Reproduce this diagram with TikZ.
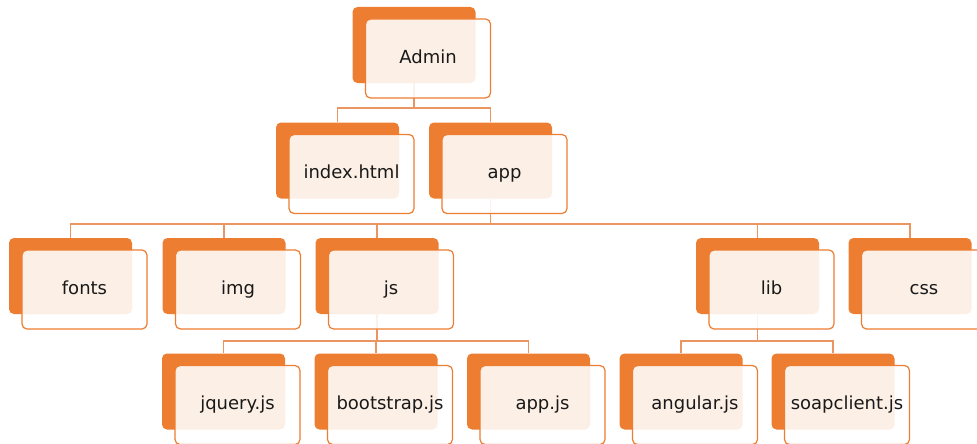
\documentclass[tikz,border=0pt]{standalone}
\usepackage{fontspec}
\setmainfont{DejaVu Sans}
\usetikzlibrary{backgrounds}
\begin{document}
\begin{tikzpicture}[x=1pt,y=-1pt,
  orangefill/.style={fill={rgb,255:red,237;green,125;blue,49}},
  backcard/.style={orangefill, draw=none, rounded corners=5pt,
    minimum width=123pt, minimum height=76pt, inner sep=0pt},
  frontcard/.style={draw={rgb,255:red,237;green,125;blue,49}, line width=1.2pt,
    fill=white, fill opacity=0.88, text opacity=1, rounded corners=5pt,
    minimum width=125pt, minimum height=79pt, inner sep=0pt,
    text height=13.5pt, text depth=4pt,
    font=\fontsize{18}{20}\selectfont, text={rgb,255:red,25;green,25;blue,25}},
  conn/.style={draw={rgb,255:red,234;green,150;blue,98}, line width=1.6pt}]
\useasboundingbox (0,0) rectangle (977,444);
\clip (0,0) rectangle (977,444);

% back cards (orange)
\node[backcard] (adminB) at (414,45) {};
\node[backcard] (indexB) at (337.5,160.5) {};
\node[backcard] (appB) at (490.5,160.5) {};
\node[backcard] (fontsB) at (70.5,276) {};
\node[backcard] (imgB) at (224,276) {};
\node[backcard] (jsB) at (377,276) {};
\node[backcard] (libB) at (757.5,276) {};
\node[backcard] (cssB) at (910,276) {};
\node[backcard] (jqueryB) at (223.5,391.5) {};
\node[backcard] (bootB) at (376,391.5) {};
\node[backcard] (appjsB) at (528.5,391.5) {};
\node[backcard] (angularB) at (681,391.5) {};
\node[backcard] (soapB) at (833,391.5) {};

% bus levels of the tree
\coordinate (busA) at (0,108);
\coordinate (busB) at (0,224);
\coordinate (busC) at (0,341);

% front cards with labels
\node[frontcard] (admin) at ([shift={(14,13.5)}]adminB.center) {Admin};
\node[frontcard] (index) at ([shift={(14,13.5)}]indexB.center) {index.html};
\node[frontcard] (app) at ([shift={(14,13.5)}]appB.center) {app};
\node[frontcard] (fonts) at ([shift={(14,13.5)}]fontsB.center) {fonts};
\node[frontcard] (img) at ([shift={(14,13.5)}]imgB.center) {img};
\node[frontcard] (js) at ([shift={(14,13.5)}]jsB.center) {js};
\node[frontcard] (lib) at ([shift={(14,13.5)}]libB.center) {lib};
\node[frontcard] (css) at ([shift={(14,13.5)}]cssB.center) {css};
\node[frontcard] (jquery) at ([shift={(14,13.5)}]jqueryB.center) {jquery.js};
\node[frontcard] (boot) at ([shift={(14,13.5)}]bootB.center) {bootstrap.js};
\node[frontcard] (appjs) at ([shift={(14,13.5)}]appjsB.center) {app.js};
\node[frontcard] (angular) at ([shift={(14,13.5)}]angularB.center) {angular.js};
\node[frontcard] (soap) at ([shift={(14,13.5)}]soapB.center) {soapclient.js};

% connectors, kept underneath the cards
\begin{scope}[on background layer]
\foreach \p/\c/\b in {adminB/indexB/busA, adminB/appB/busA,
    appB/fontsB/busB, appB/imgB/busB, appB/jsB/busB, appB/libB/busB, appB/cssB/busB,
    jsB/jqueryB/busC, jsB/bootB/busC, jsB/appjsB/busC,
    libB/angularB/busC, libB/soapB/busC}
  \draw[conn] (\p.south) -- (\p.south |- \b) -| (\c.north);
\end{scope}
\end{tikzpicture}
\end{document}
